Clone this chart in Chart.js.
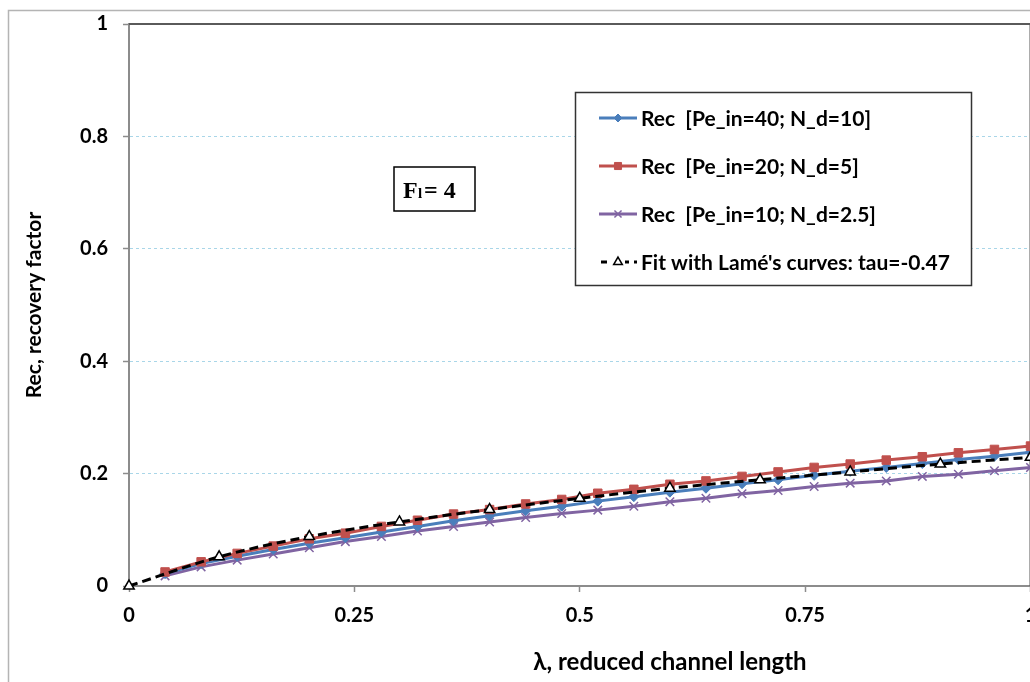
<!DOCTYPE html>
<html>
<head>
<meta charset="utf-8">
<script src="https://cdn.jsdelivr.net/npm/chart.js@4/dist/chart.umd.min.js"></script>
<style>
  html, body { margin: 0; padding: 0; background: #fff; overflow: hidden; }
  #wrap { width: 1030px; height: 682px; overflow: hidden; }
</style>
</head>
<body>
<div id="wrap"><canvas id="chart" width="1038" height="682"></canvas></div>
<script>
// reduced channel length for the simulated curves
const lambdaRec = [0.04, 0.08, 0.12, 0.16, 0.20, 0.24, 0.28, 0.32, 0.36, 0.40, 0.44, 0.48, 0.52,
                   0.56, 0.60, 0.64, 0.68, 0.72, 0.76, 0.80, 0.84, 0.88, 0.92, 0.96, 1.00];
const rec40 = [0.022, 0.040, 0.053, 0.065, 0.076, 0.086, 0.096, 0.106, 0.116, 0.125, 0.134, 0.142, 0.151,
               0.159, 0.167, 0.174, 0.182, 0.189, 0.197, 0.204, 0.211, 0.218, 0.225, 0.231, 0.238];
const rec20 = [0.025, 0.043, 0.058, 0.071, 0.084, 0.094, 0.106, 0.117, 0.128, 0.136, 0.146, 0.154, 0.165,
               0.172, 0.181, 0.187, 0.195, 0.203, 0.211, 0.217, 0.224, 0.230, 0.237, 0.243, 0.249];
const rec10 = [0.018, 0.034, 0.046, 0.057, 0.068, 0.079, 0.088, 0.098, 0.106, 0.114, 0.122, 0.129, 0.135,
               0.142, 0.150, 0.156, 0.164, 0.170, 0.177, 0.183, 0.187, 0.195, 0.199, 0.205, 0.211];
// Lamé fit
const lambdaFit = [0, 0.1, 0.2, 0.3, 0.4, 0.5, 0.6, 0.7, 0.8, 0.9, 1.0];
const fitLame = [0, 0.052, 0.088, 0.114, 0.136, 0.156, 0.174, 0.189, 0.203, 0.217, 0.229];

const xTicks = [0, 0.25, 0.5, 0.75, 1];
const yTicks = [0, 0.2, 0.4, 0.6, 0.8, 1];
const seriesLabels = [
  'Rec  [Pe_in=40; N_d=10]',
  'Rec  [Pe_in=20; N_d=5]',
  'Rec  [Pe_in=10; N_d=2.5]',
  "Fit with Lamé's curves: tau=-0.47"
];
const xTitle = 'λ, reduced channel length';
const yTitle = 'Rec, recovery factor';

const FONT = 'Lato, "Open Sans", sans-serif';

function pts(xs, ys) {
  return xs.map((x, i) => ({ x: x, y: ys[i] }));
}

const datasets = [
  {
    label: seriesLabels[0], data: pts(lambdaRec, rec40), order: 2,
    borderColor: '#4a7ebb', backgroundColor: '#4a7ebb', borderWidth: 3,
    pointStyle: 'rectRot', pointRadius: 5, pointBorderWidth: 1
  },
  {
    label: seriesLabels[1], data: pts(lambdaRec, rec20), order: 1,
    borderColor: '#c0504d', backgroundColor: '#c0504d', borderWidth: 3,
    pointStyle: 'rect', pointRadius: 6, pointBorderWidth: 1
  },
  {
    label: seriesLabels[2], data: pts(lambdaRec, rec10), order: 3,
    borderColor: '#8064a2', backgroundColor: '#8064a2', borderWidth: 3,
    pointStyle: 'crossRot', pointRadius: 6, pointBorderWidth: 1.5
  },
  {
    label: seriesLabels[3], data: pts(lambdaFit, fitLame), order: 0, clip: false,
    borderColor: '#000', backgroundColor: '#fff', borderWidth: 3, borderDash: [9, 5],
    pointStyle: 'triangle', pointRadius: 6, pointBorderWidth: 1.5, cubicInterpolationMode: 'monotone'
  }
];

// frame, plot border, axis titles, legend box and the F_l label
const decorations = {
  id: 'decorations',
  beforeDraw(chart) {
    const ctx = chart.ctx;
    ctx.save();
    ctx.fillStyle = '#fff';
    ctx.fillRect(0, 0, chart.width, chart.height);
    ctx.strokeStyle = '#b4b4b4';
    ctx.lineWidth = 1.5;
    ctx.beginPath();
    ctx.moveTo(8.5, chart.height);
    ctx.lineTo(8.5, 10.5);
    ctx.lineTo(chart.width, 10.5);
    ctx.stroke();
    ctx.restore();
  },
  beforeDatasetsDraw(chart) {
    // top and right plot border, under the series
    const ctx = chart.ctx;
    const a = chart.chartArea;
    ctx.save();
    ctx.strokeStyle = '#5a5a5a';
    ctx.lineWidth = 2;
    ctx.beginPath();
    ctx.moveTo(a.left, a.top);
    ctx.lineTo(a.right, a.top);
    ctx.lineTo(a.right, a.bottom);
    ctx.stroke();
    ctx.restore();
  },
  afterDraw(chart) {
    const ctx = chart.ctx;
    const a = chart.chartArea;
    ctx.save();

    // axis titles
    ctx.fillStyle = '#000';
    ctx.textAlign = 'center';
    ctx.textBaseline = 'middle';
    ctx.font = 'bold 24px ' + FONT;
    ctx.fillText(xTitle, 670, 662);
    ctx.save();
    ctx.translate(34, (a.top + a.bottom) / 2);
    ctx.rotate(-Math.PI / 2);
    ctx.font = 'bold 21px ' + FONT;
    ctx.fillText(yTitle, 0, 0);
    ctx.restore();

    // legend
    const lx = 575, ly = 92, lw = 396, lh = 193;
    ctx.fillStyle = '#fff';
    ctx.fillRect(lx, ly, lw, lh);
    ctx.strokeStyle = '#333';
    ctx.lineWidth = 1.5;
    ctx.strokeRect(lx + 0.5, ly + 0.5, lw, lh);
    const rows = [118, 166, 214, 262];
    chart.data.datasets.forEach((ds, i) => {
      const y = rows[i];
      ctx.strokeStyle = ds.borderColor;
      ctx.lineWidth = ds.borderWidth;
      ctx.setLineDash(i === 3 ? [6, 5] : []);
      ctx.beginPath();
      ctx.moveTo(i === 3 ? 601 : 599, y);
      ctx.lineTo(637, y);
      ctx.stroke();
      ctx.setLineDash([]);
      ctx.fillStyle = i === 3 ? '#fff' : ds.borderColor;
      ctx.strokeStyle = i === 3 ? '#000' : ds.borderColor;
      ctx.lineWidth = ds.pointBorderWidth;
      if (i === 3) {
        ctx.fillRect(611, y - 6, 14, 12);
      }
      Chart.helpers.drawPoint(ctx, {
        pointStyle: ds.pointStyle, radius: i === 3 ? 5 : ds.pointRadius - 1,
        borderWidth: ds.pointBorderWidth, rotation: 0
      }, 618, y);
      ctx.fillStyle = '#000';
      ctx.font = 'bold 21px ' + FONT;
      ctx.textBaseline = 'middle';
      ctx.textAlign = 'left';
      ctx.fillText(ds.label, 641, y + 1);
    });

    // F_l = 4 box
    ctx.strokeStyle = '#000';
    ctx.lineWidth = 1.5;
    ctx.strokeRect(394, 167, 81, 44);
    ctx.fillStyle = '#000';
    ctx.textBaseline = 'alphabetic';
    ctx.font = 'bold 24px "Liberation Serif", serif';
    ctx.fillText('F', 403, 198);
    ctx.font = 'bold 15px "Liberation Serif", serif';
    ctx.fillText('l', 418, 198);
    ctx.font = 'bold 24px "Liberation Serif", serif';
    ctx.fillText('= 4', 424, 198);
    ctx.restore();
  }
};

new Chart(document.getElementById('chart'), {
  type: 'line',
  data: { datasets: datasets },
  plugins: [decorations],
  options: {
    responsive: false,
    animation: false,
    devicePixelRatio: 1,
    layout: { padding: { top: 24, right: 1, left: 0, bottom: 0 } },
    plugins: { legend: { display: false }, tooltip: { enabled: false } },
    elements: { line: { tension: 0 } },
    scales: {
      x: {
        type: 'linear', min: 0, max: 1,
        afterBuildTicks(scale) { scale.ticks = xTicks.map(v => ({ value: v })); },
        afterFit(scale) { scale.height = 96; scale.paddingLeft = 0; scale.paddingRight = 0; },
        grid: { drawOnChartArea: false, drawTicks: true, tickLength: 6, tickColor: '#8c8c8c', tickWidth: 1.5 },
        border: { color: '#8c8c8c', width: 2 },
        ticks: {
          padding: 12, color: '#000', font: { family: FONT, size: 20, weight: 'bold' },
          maxRotation: 0, autoSkip: false,
          callback: v => String(v)
        }
      },
      y: {
        min: 0, max: 1,
        afterBuildTicks(scale) { scale.ticks = yTicks.map(v => ({ value: v })); },
        afterFit(scale) { scale.width = 129; scale.paddingTop = 0; scale.paddingBottom = 0; },
        grid: {
          color: '#a9d6e8', tickBorderDash: [], lineWidth: 1,
          tickLength: 6, tickColor: '#8c8c8c', tickWidth: 1.5
        },
        border: { color: '#8c8c8c', width: 2, dash: [3, 3] },
        ticks: {
          padding: 15, color: '#000', font: { family: FONT, size: 20, weight: 'bold' },
          callback: v => String(v)
        }
      }
    }
  }
});
</script>
</body>
</html>
